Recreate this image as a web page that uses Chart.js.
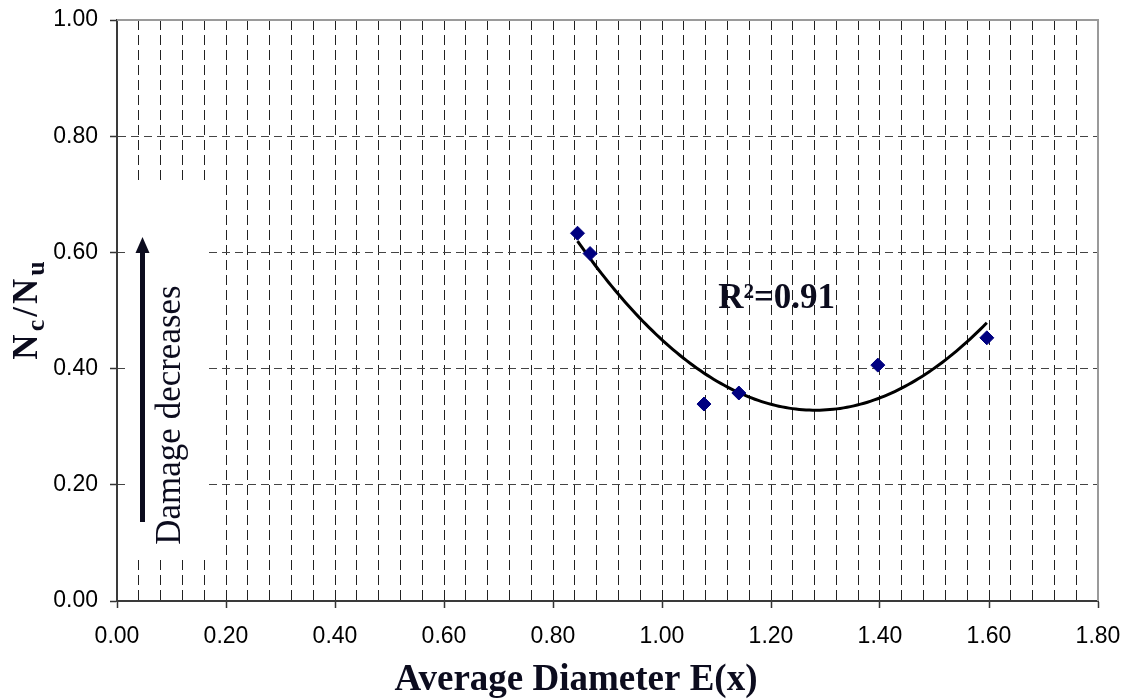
<!DOCTYPE html>
<html>
<head>
<meta charset="utf-8">
<script src="https://cdn.jsdelivr.net/npm/chart.js@4"></script>
<style>
  html, body { margin: 0; padding: 0; background: #ffffff; }
  #wrap { width: 1125px; height: 700px; }
</style>
</head>
<body>
<div id="wrap"><canvas id="chart" width="1125" height="700"></canvas></div>
<script>
// Measured specimens: average diameter vs. cycle ratio
const diameters = [0.845, 0.868, 1.077, 1.141, 1.396, 1.596];
const ratios    = [0.633, 0.598, 0.339, 0.358, 0.406, 0.453];

// Axis ranges and tick spacing
const xRange = [0, 1.8];
const yRange = [0, 1.0];
const xMinorStep = 0.04;
const xMajorStep = 0.2;
const yStep = 0.2;

// Text
const xTitle = 'Average Diameter E(x)';
const yTitleParts = [['N', false], ['c', true], ['/', false], ['N', false], ['u', true]];
const fitLabel = 'R\u00B2=0.91';
const noteLabel = 'Damage decreases';

const SANS = '"Liberation Sans", Arial, sans-serif';
const SERIF = '"Liberation Serif", "Times New Roman", serif';
const INK = '#0c0c1e';

// Second-order least-squares fit (trendline) of the measured points
function quadFit(xs, ys) {
  let s0 = xs.length, s1 = 0, s2 = 0, s3 = 0, s4 = 0, t0 = 0, t1 = 0, t2 = 0;
  xs.forEach((x, i) => {
    const y = ys[i], x2 = x * x;
    s1 += x; s2 += x2; s3 += x2 * x; s4 += x2 * x2;
    t0 += y; t1 += x * y; t2 += x2 * y;
  });
  const det3 = m => m[0][0] * (m[1][1] * m[2][2] - m[1][2] * m[2][1])
                  - m[0][1] * (m[1][0] * m[2][2] - m[1][2] * m[2][0])
                  + m[0][2] * (m[1][0] * m[2][1] - m[1][1] * m[2][0]);
  const A = [[s0, s1, s2], [s1, s2, s3], [s2, s3, s4]];
  const b = [t0, t1, t2];
  const D = det3(A);
  return [0, 1, 2].map(k => det3(A.map((row, r) => row.map((v, c) => (c === k ? b[r] : v)))) / D);
}
const coef = quadFit(diameters, ratios);
const xLo = Math.min(...diameters), xHi = Math.max(...diameters);
const trend = [];
for (let i = 0; i <= 120; i++) {
  const x = xLo + (xHi - xLo) * i / 120;
  trend.push({ x, y: coef[0] + coef[1] * x + coef[2] * x * x });
}

const isMajor = v => Math.abs(v / xMajorStep - Math.round(v / xMajorStep)) < 1e-6;

// Fixed axis boxes so the plot area sits where the layout expects it
function fixBox(size, horizontal) {
  return s => {
    if (horizontal) s.height = size; else s.width = size;
    s.paddingLeft = s.paddingRight = s.paddingTop = s.paddingBottom = 0;
  };
}

// Decorations: plot frame, the "damage" note with its arrow, titles and fit label
const decor = {
  id: 'decor',
  beforeDatasetsDraw(chart) {
    const { ctx, chartArea: a } = chart;
    ctx.save();
    // note box background
    ctx.fillStyle = '#ffffff';
    ctx.fillRect(125, 182, 83, 375);
    // upper and right frame
    ctx.strokeStyle = '#9a9a9a';
    ctx.lineWidth = 2;
    ctx.beginPath();
    ctx.moveTo(a.left, a.top);
    ctx.lineTo(a.right, a.top);
    ctx.lineTo(a.right, a.bottom);
    ctx.stroke();
    // arrow
    ctx.fillStyle = INK;
    ctx.fillRect(140, 250, 5, 272);
    ctx.beginPath();
    ctx.moveTo(142.5, 237);
    ctx.lineTo(135.5, 253);
    ctx.lineTo(149.5, 253);
    ctx.closePath();
    ctx.fill();
    // note text
    ctx.translate(180, 415);
    ctx.rotate(-Math.PI / 2);
    ctx.font = '35px ' + SERIF;
    ctx.textAlign = 'center';
    ctx.textBaseline = 'alphabetic';
    ctx.fillStyle = INK;
    ctx.fillText(noteLabel, 0, 0);
    ctx.restore();
  },
  afterDraw(chart) {
    const { ctx, chartArea: a, scales } = chart;
    ctx.save();
    ctx.fillStyle = INK;
    ctx.textBaseline = 'alphabetic';

    // fit label
    ctx.font = 'bold 35px ' + SERIF;
    ctx.textAlign = 'left';
    ctx.fillText(fitLabel, scales.x.getPixelForValue(1.103), scales.y.getPixelForValue(0.505));

    // x title
    ctx.font = 'bold 37px ' + SERIF;
    ctx.textAlign = 'center';
    ctx.fillText(xTitle, 576, 690);

    // y title with subscripts
    const baseFont = 'bold 35px ' + SERIF;
    const subFont = 'bold 26px ' + SERIF;
    const gap = 3;
    let total = 0;
    yTitleParts.forEach(([t, sub]) => { ctx.font = sub ? subFont : baseFont; total += ctx.measureText(t).width + gap; });
    total -= gap;
    ctx.translate(37, (a.top + a.bottom) / 2);
    ctx.rotate(-Math.PI / 2);
    ctx.textAlign = 'left';
    let pos = -total / 2;
    yTitleParts.forEach(([t, sub]) => {
      ctx.font = sub ? subFont : baseFont;
      ctx.fillText(t, pos, sub ? 7 : 0);
      pos += ctx.measureText(t).width + gap;
    });
    ctx.restore();
  }
};

new Chart(document.getElementById('chart'), {
  type: 'scatter',
  data: {
    datasets: [
      {
        label: 'Measured',
        data: diameters.map((d, i) => ({ x: d, y: ratios[i] })),
        pointStyle: 'rectRot',
        pointRadius: 7,
        pointHoverRadius: 7,
        backgroundColor: '#000080',
        borderColor: '#000080',
        borderWidth: 1,
        showLine: false
      },
      {
        label: 'Poly. fit',
        data: trend,
        showLine: true,
        borderColor: '#000000',
        borderWidth: 3,
        pointRadius: 0,
        fill: false,
        tension: 0
      }
    ]
  },
  options: {
    responsive: false,
    animation: false,
    devicePixelRatio: 1,
    layout: { padding: { top: 20, right: 27, bottom: 0, left: 0 } },
    plugins: { legend: { display: false }, tooltip: { enabled: false } },
    scales: {
      x: {
        type: 'linear',
        min: xRange[0],
        max: xRange[1],
        afterFit: fixBox(99, true),
        ticks: {
          stepSize: xMinorStep,
          autoSkip: false,
          maxRotation: 0,
          minRotation: 0,
          padding: 15,
          color: '#000000',
          font: { family: SANS, size: 23 },
          callback: v => (isMajor(v) ? v.toFixed(2) : '')
        },
        grid: {
          color: '#222222',
          lineWidth: 1,
          tickLength: 7,
          tickWidth: 1.5,
          tickColor: ctx => (ctx.tick && isMajor(ctx.tick.value) ? '#333333' : 'rgba(0,0,0,0)')
        },
        border: { display: true, color: '#3a3a3a', width: 2, dash: [10, 5] }
      },
      y: {
        type: 'linear',
        min: yRange[0],
        max: yRange[1],
        afterFit: fixBox(117, false),
        ticks: {
          stepSize: yStep,
          padding: 12,
          color: '#000000',
          font: { family: SANS, size: 23 },
          callback: v => v.toFixed(2)
        },
        grid: {
          color: '#444444',
          lineWidth: 1,
          tickLength: 7,
          tickWidth: 1.5,
          tickColor: '#333333'
        },
        border: { display: true, color: '#3a3a3a', width: 2, dash: [8, 5] }
      }
    }
  },
  plugins: [decor]
});
</script>
</body>
</html>
